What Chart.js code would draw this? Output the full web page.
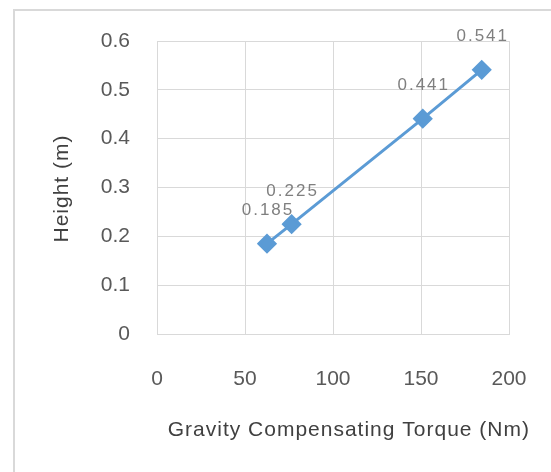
<!DOCTYPE html>
<html>
<head>
<meta charset="utf-8">
<script src="https://cdn.jsdelivr.net/npm/chart.js@4.4.1/dist/chart.umd.min.js"></script>
<style>
    html, body { margin: 0; padding: 0; background: #fff; }
</style>
</head>
<body>
<canvas id="chart" width="551" height="472"></canvas>
<script>
// Values
const torque = [62.5, 76.5, 151, 184.5];
const heights = [0.185, 0.225, 0.441, 0.541];
const xTicks = [0, 50, 100, 150, 200];
const yTicks = [0, 0.1, 0.2, 0.3, 0.4, 0.5, 0.6];
const xTitle = 'Gravity Compensating Torque (Nm)';
const yTitle = 'Height (m)';

const FONT = "'Liberation Sans', Arial, sans-serif";
const gridColor = '#d9d9d9';
const lineColor = '#5b9bd5';

// White background plus the outer chart frame
const framePlugin = {
    id: 'frame',
    beforeDraw(chart) {
        const ctx = chart.ctx;
        ctx.save();
        ctx.fillStyle = '#fff';
        ctx.fillRect(0, 0, chart.width, chart.height);
        ctx.strokeStyle = gridColor;
        ctx.lineWidth = 2;
        ctx.strokeRect(14, 10, chart.width + 20, chart.height + 20);
        ctx.restore();
    }
};

// Value labels above each marker + both axis titles
const labelPlugin = {
    id: 'labels',
    afterDatasetsDraw(chart) {
        const ctx = chart.ctx;
        const area = chart.chartArea;
        const meta = chart.getDatasetMeta(0);
        ctx.save();
        ctx.font = '17px ' + FONT;
        ctx.letterSpacing = '2px';
        ctx.fillStyle = '#7f7f7f';
        ctx.textAlign = 'center';
        ctx.textBaseline = 'middle';
        meta.data.forEach((pt, i) => {
            ctx.fillText(String(heights[i]), pt.x + 1, pt.y - 33);
        });
        ctx.restore();

        // x title sits a bit right of centre, as in the original
        ctx.save();
        ctx.font = '21px ' + FONT;
        ctx.letterSpacing = '1px';
        ctx.fillStyle = '#404040';
        ctx.textAlign = 'right';
        ctx.textBaseline = 'middle';
        ctx.fillText(xTitle, area.right + 21, 430);
        ctx.restore();

        // y title
        ctx.save();
        ctx.font = '21px ' + FONT;
        ctx.letterSpacing = '1px';
        ctx.fillStyle = '#404040';
        ctx.textAlign = 'center';
        ctx.textBaseline = 'middle';
        ctx.translate(62, (area.top + area.bottom) / 2 + 1);
        ctx.rotate(-Math.PI / 2);
        ctx.fillText(yTitle, 0, 0);
        ctx.restore();
    }
};

const ctx = document.getElementById('chart').getContext('2d');
const chart = new Chart(ctx, {
    type: 'scatter',
    data: {
        datasets: [{
            label: yTitle,
            data: torque.map((x, i) => ({ x: x, y: heights[i] })),
            showLine: true,
            borderColor: lineColor,
            backgroundColor: lineColor,
            borderWidth: 3,
            pointStyle: 'rectRot',
            pointRadius: 8,
            pointHoverRadius: 8
        }]
    },
    options: {
        responsive: false,
        animation: false,
        layout: {
            padding: { left: 0, top: 41, right: 42, bottom: 0 }
        },
        plugins: {
            legend: { display: false },
            tooltip: { enabled: false }
        },
        scales: {
            x: {
                type: 'linear',
                min: 0,
                max: 200,
                afterBuildTicks: s => { s.ticks = xTicks.map(v => ({ value: v })); },
                afterFit: s => {
                    s.height = 138;
                    s.paddingLeft = 0;
                    s.paddingRight = 0;
                },
                grid: { color: gridColor, drawTicks: false },
                border: { color: gridColor },
                ticks: {
                    padding: 33,
                    color: '#595959',
                    font: { family: FONT, size: 21 }
                }
            },
            y: {
                type: 'linear',
                min: 0,
                max: 0.6,
                afterBuildTicks: s => { s.ticks = yTicks.map(v => ({ value: v })); },
                afterFit: s => { s.width = 157; },
                grid: { color: gridColor, drawTicks: false },
                border: { color: gridColor },
                ticks: {
                    padding: 27,
                    color: '#595959',
                    font: { family: FONT, size: 21 }
                }
            }
        }
    },
    plugins: [framePlugin, labelPlugin]
});
</script>
</body>
</html>
